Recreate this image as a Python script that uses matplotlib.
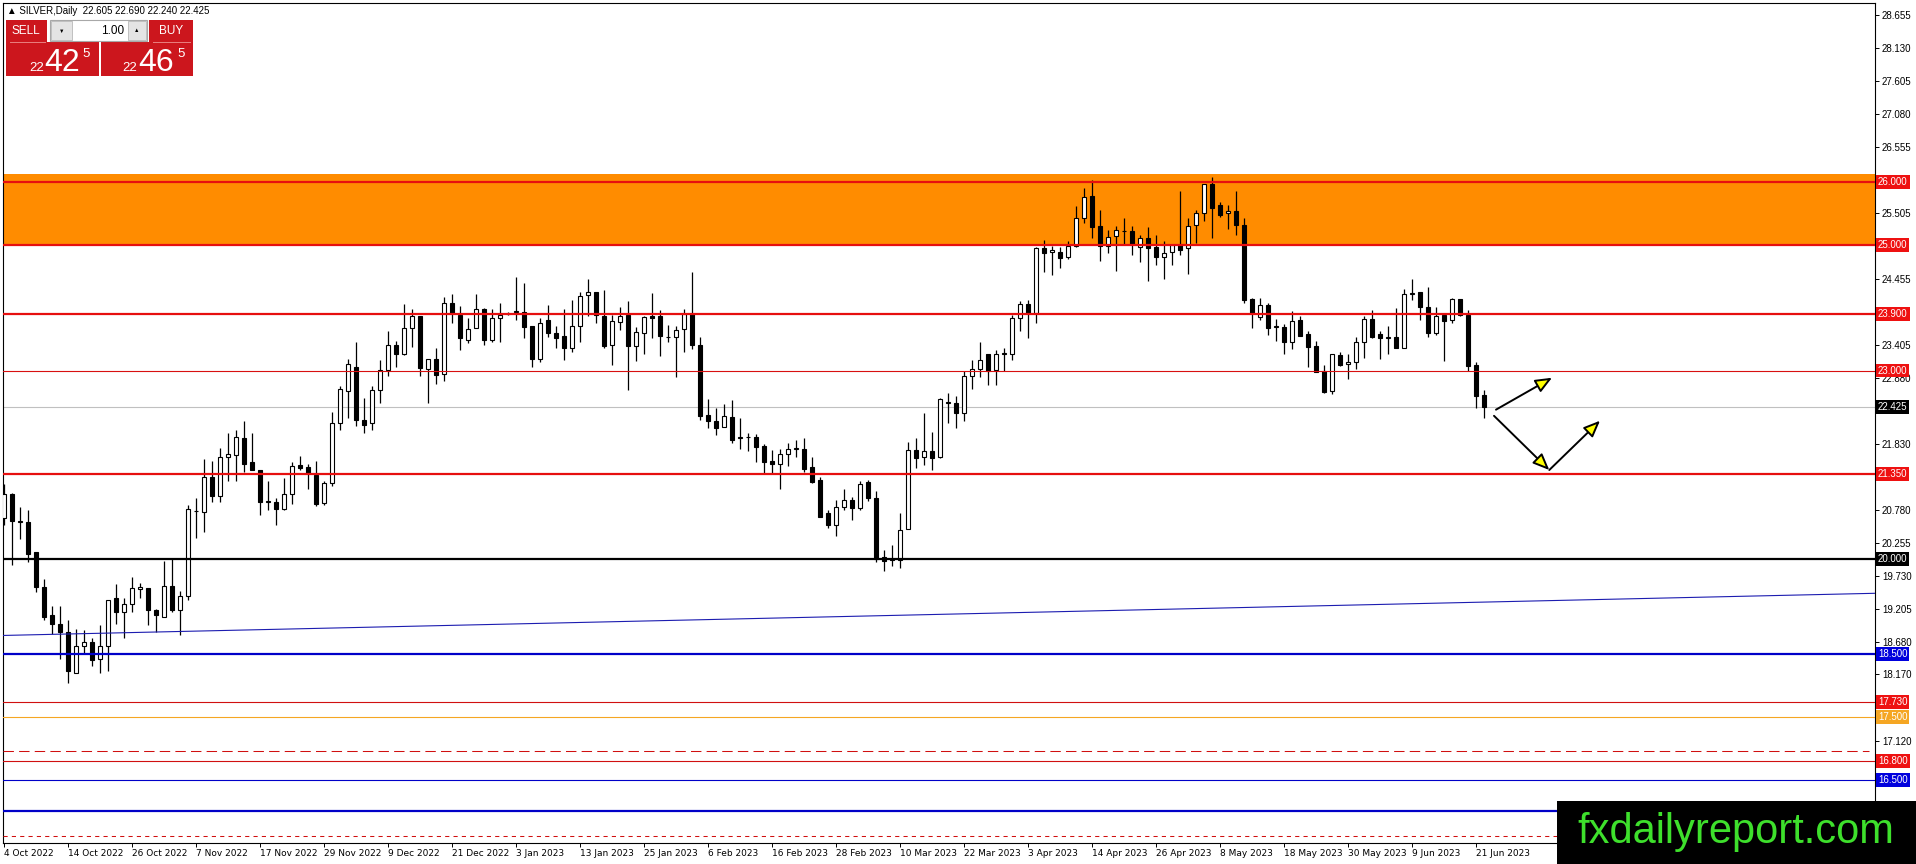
import numpy as np
import matplotlib
matplotlib.use('Agg')
import matplotlib.pyplot as plt
from matplotlib.patches import Rectangle, FancyArrowPatch
from matplotlib.transforms import blended_transform_factory

plt.rcParams['font.family'] = ['Liberation Sans', 'DejaVu Sans']

# SILVER daily candles, 4 Oct 2022 .. 22 Jun 2023
opens = [20.66, 21.03, 20.60, 20.60, 20.12, 19.56, 19.12, 18.97, 18.84, 18.20,
         18.62, 18.69, 18.41, 18.62, 19.39, 19.17, 19.29, 19.53, 19.55, 19.19,
         19.09, 19.57, 19.19, 19.41, 20.76, 20.75, 21.31, 21.00, 21.63, 21.65,
         21.93, 21.54, 21.42, 20.91, 20.91, 20.80, 21.04, 21.50, 21.46, 21.34,
         20.89, 21.22, 22.17, 22.68, 23.05, 22.22, 22.16, 22.69, 23.01, 23.40,
         23.26, 23.67, 23.86, 23.02, 23.18, 22.94, 24.08, 23.88, 23.49, 23.68,
         23.98, 23.48, 23.83, 23.90, 23.93, 23.93, 23.70, 23.18, 23.81, 23.59,
         23.55, 23.35, 23.70, 24.20, 24.24, 23.86, 23.41, 23.77, 23.88, 23.39,
         23.60, 23.86, 23.86, 23.53, 23.53, 23.66, 23.895, 23.40, 22.30, 22.20,
         22.10, 22.26, 21.93, 21.94, 21.94, 21.80, 21.56, 21.51, 21.67, 21.76,
         21.76, 21.46, 21.26, 20.74, 20.55, 20.83, 20.94, 20.82, 21.23, 20.98,
         20.03, 20.00, 19.99, 20.48, 21.73, 21.63, 21.72, 21.63, 22.49, 22.48,
         22.33, 22.92, 23.03, 23.27, 23.01, 23.27, 23.27, 23.84, 24.05, 23.92,
         24.94, 24.88, 24.88, 24.81, 24.98, 25.43, 25.77, 25.30, 24.98, 25.13,
         25.22, 25.22, 24.97, 25.10, 24.96, 24.81, 24.88, 25.00, 24.94, 25.32,
         25.51, 25.97, 25.63, 25.50, 25.53, 25.32, 24.14, 23.855, 24.04, 23.69,
         23.69, 23.45, 23.81, 23.58, 23.39, 23.00, 22.67, 23.25, 23.10, 23.13,
         23.46, 23.82, 23.58, 23.52, 23.53, 23.36, 24.22, 24.24, 24.01, 23.60,
         23.88, 23.80, 24.14, 23.89, 23.09, 22.605]
highs = [21.19, 21.05, 20.83, 20.78, 20.12, 19.68, 19.26, 19.26, 19.03, 18.89,
         18.88, 18.75, 18.95, 19.36, 19.61, 19.39, 19.72, 19.62, 19.55, 19.21,
         19.98, 20.01, 19.50, 20.86, 20.97, 21.59, 21.56, 21.77, 22.00, 22.05,
         22.19, 22.00, 21.42, 21.25, 20.98, 21.29, 21.55, 21.64, 21.51, 21.57,
         21.25, 22.34, 22.75, 23.18, 23.45, 22.56, 22.76, 23.17, 23.63, 23.47,
         24.05, 23.97, 23.86, 23.18, 23.35, 24.17, 24.22, 24.02, 23.83, 24.21,
         24.00, 23.98, 24.08, 23.93, 24.48, 24.39, 23.70, 23.84, 24.04, 23.71,
         23.97, 24.12, 24.24, 24.45, 24.24, 24.28, 23.88, 24.01, 24.10, 23.69,
         23.87, 24.23, 23.96, 23.73, 23.70, 23.97, 24.56, 23.53, 22.55, 22.40,
         22.46, 22.53, 22.24, 22.01, 21.99, 21.84, 21.74, 21.76, 21.85, 21.90,
         21.92, 21.63, 21.31, 20.78, 20.95, 21.11, 20.99, 21.25, 21.26, 21.09,
         20.15, 20.22, 20.73, 21.87, 21.92, 22.32, 22.03, 22.56, 22.65, 22.59,
         23.00, 23.16, 23.45, 23.27, 23.33, 23.35, 23.88, 24.10, 24.12, 24.97,
         25.07, 24.98, 24.97, 25.06, 25.61, 25.90, 26.03, 25.55, 25.24, 25.30,
         25.43, 25.30, 25.16, 25.28, 25.16, 25.06, 25.00, 25.85, 25.42, 25.55,
         25.97, 26.07, 25.68, 25.63, 25.85, 25.42, 24.15, 24.15, 24.07, 23.82,
         23.74, 23.94, 23.87, 23.62, 23.47, 23.09, 23.27, 23.29, 23.27, 23.54,
         23.87, 23.96, 23.63, 23.71, 24.00, 24.29, 24.46, 24.25, 24.32, 24.01,
         23.88, 24.16, 24.14, 23.96, 23.13, 22.69]
lows = [20.55, 19.91, 20.32, 19.95, 19.48, 19.04, 18.81, 18.41, 18.04, 18.20,
        18.51, 18.31, 18.19, 18.23, 18.97, 18.75, 19.17, 19.39, 18.95, 18.84,
        19.09, 19.16, 18.79, 19.36, 20.34, 20.44, 20.91, 20.91, 21.24, 21.24,
        21.38, 21.42, 20.71, 20.79, 20.54, 20.79, 20.88, 21.42, 21.12, 20.84,
        20.86, 21.16, 22.06, 22.25, 22.12, 22.00, 22.06, 22.49, 22.91, 23.05,
        23.25, 23.38, 22.91, 22.49, 22.78, 22.83, 23.76, 23.33, 23.44, 23.67,
        23.40, 23.45, 23.45, 23.88, 23.80, 23.51, 23.05, 23.13, 23.53, 23.36,
        23.16, 23.30, 23.45, 23.86, 23.76, 23.36, 23.08, 23.64, 22.69, 23.15,
        23.26, 23.52, 23.23, 23.45, 22.90, 23.30, 23.34, 22.22, 22.08, 21.98,
        22.10, 21.85, 21.76, 21.72, 21.54, 21.36, 21.37, 21.11, 21.49, 21.63,
        21.38, 21.21, 20.67, 20.49, 20.37, 20.78, 20.62, 20.79, 20.93, 19.96,
        19.82, 19.89, 19.86, 20.48, 21.45, 21.50, 21.42, 21.61, 22.16, 22.09,
        22.20, 22.70, 22.90, 22.77, 22.77, 23.00, 23.17, 23.63, 23.51, 23.76,
        24.57, 24.51, 24.63, 24.77, 24.96, 25.34, 25.10, 24.74, 24.87, 24.58,
        25.00, 24.83, 24.73, 24.43, 24.67, 24.45, 24.68, 24.83, 24.53, 25.03,
        25.37, 25.11, 25.44, 25.25, 25.15, 24.08, 23.68, 23.81, 23.57, 23.47,
        23.26, 23.34, 23.55, 23.05, 22.97, 22.64, 22.62, 23.07, 22.86, 23.03,
        23.20, 23.52, 23.19, 23.27, 23.35, 23.36, 24.12, 23.80, 23.54, 23.57,
        23.15, 23.76, 23.86, 22.99, 22.41, 22.24]
closes = [21.03, 20.61, 20.61, 20.09, 19.56, 19.09, 18.97, 18.84, 18.22, 18.62,
          18.69, 18.40, 18.62, 19.36, 19.17, 19.29, 19.55, 19.56, 19.20, 19.11,
          19.57, 19.19, 19.41, 20.80, 20.77, 21.31, 21.00, 21.63, 21.68, 21.95,
          21.52, 21.42, 20.91, 20.92, 20.80, 21.04, 21.48, 21.45, 21.37, 20.88,
          21.22, 22.17, 22.71, 23.10, 22.21, 22.13, 22.69, 23.01, 23.40, 23.26,
          23.67, 23.86, 23.04, 23.18, 22.93, 24.08, 23.92, 23.51, 23.66, 23.98,
          23.48, 23.83, 23.89, 23.90, 23.94, 23.69, 23.18, 23.75, 23.59, 23.52,
          23.35, 23.70, 24.19, 24.24, 23.88, 23.39, 23.78, 23.86, 23.39, 23.61,
          23.85, 23.84, 23.55, 23.54, 23.65, 23.895, 23.40, 22.28, 22.20, 22.09,
          22.27, 21.89, 21.94, 21.94, 21.79, 21.55, 21.51, 21.67, 21.76, 21.77,
          21.44, 21.23, 20.67, 20.55, 20.83, 20.94, 20.82, 21.20, 20.98, 20.00,
          19.98, 19.99, 20.47, 21.73, 21.61, 21.72, 21.61, 22.54, 22.50, 22.33,
          22.92, 23.03, 23.16, 23.00, 23.26, 23.28, 23.84, 24.05, 23.92, 24.94,
          24.87, 24.91, 24.79, 24.98, 25.43, 25.75, 25.28, 24.98, 25.12, 25.23,
          25.21, 25.01, 25.10, 24.94, 24.81, 24.86, 25.00, 24.92, 25.30, 25.51,
          25.97, 25.59, 25.47, 25.54, 25.31, 24.12, 23.92, 24.04, 23.68, 23.70,
          23.45, 23.79, 23.55, 23.38, 22.98, 22.66, 23.26, 23.09, 23.13, 23.45,
          23.82, 23.54, 23.51, 23.53, 23.36, 24.21, 24.23, 24.01, 23.60, 23.87,
          23.79, 24.14, 23.88, 23.07, 22.60, 22.425]

# date labels on the time axis (bar index, text)
date_bars = [0, 8, 16, 24, 32, 40, 48, 56, 64, 72, 80, 88,
             96, 104, 112, 120, 128, 136, 144, 152, 160, 168, 176, 184]
date_labels = ['4 Oct 2022', '14 Oct 2022', '26 Oct 2022', '7 Nov 2022', '17 Nov 2022',
               '29 Nov 2022', '9 Dec 2022', '21 Dec 2022', '3 Jan 2023', '13 Jan 2023',
               '25 Jan 2023', '6 Feb 2023', '16 Feb 2023', '28 Feb 2023', '10 Mar 2023',
               '22 Mar 2023', '3 Apr 2023', '14 Apr 2023', '26 Apr 2023', '8 May 2023',
               '18 May 2023', '30 May 2023', '9 Jun 2023', '21 Jun 2023']

# price scale labels that are left visible (the rest sit under the price tags)
price_labels = ['28.655', '28.130', '27.605', '27.080', '26.555', '25.505',
                '24.455', '23.405', '22.880', '21.830',
                '20.780', '20.255', '19.730', '19.205', '18.680', '18.170',
                '17.120']

# horizontal levels with price tags
level_prices = [26.0, 25.0, 23.9, 23.0, 21.35, 20.0, 18.5, 17.73, 17.5, 16.8, 16.5]
level_tags = ['26.000', '25.000', '23.900', '23.000', '21.350', '20.000',
              '18.500', '17.730', '17.500', '16.800', '16.500']
level_colors = ['#e60f0f', '#e60f0f', '#e60f0f', '#d81010', '#e60f0f', 'black',
                '#0000c8', '#d01010', '#f5a623', '#d01010', '#0000c8']
level_widths = [1.6, 1.6, 1.6, 0.8, 1.6, 1.6, 1.6, 0.8, 0.8, 0.8, 0.8]
tag_colors = ['#ee1111', '#ee1111', '#ee1111', '#ee1111', '#ee1111', 'black',
              '#0000dd', '#ee1111', '#f5a623', '#ee1111', '#0000dd']

bid_price = 22.425
zone_low, zone_high = 25.0, 26.12
dashed_level = 16.96
blue_level = 16.0
dotted_level = 15.6

# trend line (bar index, price)
trend_x = [-0.125, 233.875]
trend_p = [18.79, 19.46]

# projection arrows (bar index, price)
arrow_from = [(186.5, 22.378), (186.25, 22.28), (193.16, 21.419)]
arrow_to = [(193.5, 22.885), (193.16, 21.419), (199.5, 22.202)]

W, H = 1916, 864
fig = plt.figure(figsize=(W / 100, H / 100), dpi=100)
fig.patch.set_facecolor('white')

left_px, right_px, top_px, bot_px = 3, 1875, 3, 843
ax = fig.add_axes([left_px / W, 1 - bot_px / H, (right_px - left_px) / W, (bot_px - top_px) / H])
ax.set_xlim((left_px - 4) / 8, (right_px - 4) / 8)
ax.set_ylim(15.492, 28.840)

# orange resistance zone
ax.axhspan(zone_low, zone_high, color='#ff8c00', zorder=1, lw=0)
ax.axhline(bid_price, color='#c0c0c0', lw=0.8, zorder=2)

# candles
o = np.array(opens); h = np.array(highs); l = np.array(lows); c = np.array(closes)
x = np.arange(len(o))
up = c >= o
ax.vlines(x, l, h, color='black', lw=0.9, zorder=4)
body_lo = np.minimum(o, c)
body_h = np.maximum(np.abs(c - o), 0.004)
ax.bar(x, body_h, bottom=body_lo, width=0.55, color=np.where(up, 'white', 'black'),
       edgecolor='black', linewidth=0.8, zorder=5)

# levels
for p, col, lw in zip(level_prices, level_colors, level_widths):
    ax.axhline(p, color=col, lw=lw, zorder=6)
ax.axhline(dashed_level, xmax=0.997, color='#d01010', lw=0.75, dashes=(10, 5), zorder=6)
ax.axhline(blue_level, color='#0000c8', lw=1.6, zorder=6)
ax.axhline(dotted_level, color='#d01010', lw=0.75, dashes=(4, 4), zorder=6)
ax.plot(trend_x, trend_p, color='#1c1cb0', lw=0.8, zorder=6)

# arrows
for a, b in zip(arrow_from, arrow_to):
    ax.add_patch(FancyArrowPatch(a, b, arrowstyle='-|>,head_length=1.0,head_width=0.42',
                                 mutation_scale=10, fc='#ffff00', ec='black', lw=1.4,
                                 shrinkA=0, shrinkB=0, zorder=7))

# axes styling
for s in ax.spines.values():
    s.set_color('black')
    s.set_linewidth(0.8)
ax.yaxis.tick_right()
ax.set_yticks([float(t) for t in price_labels])
ax.set_yticklabels(price_labels)
ax.set_xticks(date_bars)
ax.set_xticklabels(date_labels, ha='left', family='DejaVu Sans')
ax.tick_params(axis='y', direction='out', length=3, width=0.7, pad=2, labelsize=7)
ax.tick_params(axis='x', direction='out', length=3, width=0.7, pad=1.5, labelsize=6.5)

# price tags on the right scale
trans = blended_transform_factory(ax.transAxes, ax.transData)
xtag = 1 + 3 / (right_px - left_px)
for txt, p, col in zip(level_tags, level_prices, tag_colors):
    ax.text(xtag, p, txt, transform=trans, ha='left', va='center', fontsize=7, color='white',
            bbox=dict(boxstyle='square,pad=0.2', fc=col, ec='none'), zorder=10, clip_on=False)
ax.text(xtag, bid_price, '22.425', transform=trans, ha='left', va='center', fontsize=7,
        color='white', bbox=dict(boxstyle='square,pad=0.2', fc='black', ec='none'),
        zorder=10, clip_on=False)

# overlay in pixel units: header, one-click panel, watermark
ov = fig.add_axes([0, 0, 1, 1], zorder=20)
ov.set_xlim(0, W)
ov.set_ylim(H, 0)
ov.axis('off')

ov.text(7, 11, '\u25b2 SILVER,Daily  22.605 22.690 22.240 22.425', fontsize=7, va='center')

red = '#cc161d'
ov.add_patch(Rectangle((6, 20), 41, 22, fc=red, ec='none'))
ov.add_patch(Rectangle((6, 42), 93, 34, fc=red, ec='none'))
ov.add_patch(Rectangle((149, 20), 44, 22, fc=red, ec='none'))
ov.add_patch(Rectangle((101, 42), 92, 34, fc=red, ec='none'))
ov.plot([10, 45], [41.5, 41.5], color='#e98080', lw=0.7)
ov.plot([153, 190], [41.5, 41.5], color='#e98080', lw=0.7)
ov.add_patch(Rectangle((50, 20), 97, 21, fc='white', ec='#a8a8a8', lw=0.8))
ov.add_patch(Rectangle((51, 21), 21, 19, fc='#e4e4e4', ec='#b8b8b8', lw=0.6))
ov.add_patch(Rectangle((128, 21), 18, 19, fc='#e4e4e4', ec='#b8b8b8', lw=0.6))
ov.text(61.5, 31, '\u25bc', fontsize=4, ha='center', va='center')
ov.text(137, 31, '\u25b2', fontsize=4, ha='center', va='center')
ov.text(124, 31, '1.00', fontsize=8.5, ha='right', va='center')
ov.text(26, 31, 'SELL', fontsize=8.5, color='white', ha='center', va='center')
ov.text(171, 31, 'BUY', fontsize=8.5, color='white', ha='center', va='center')
ov.text(29, 71, '22', fontsize=9.5, color='white', ha='left', va='baseline')
ov.text(44, 71, '42', fontsize=23, color='white', ha='left', va='baseline')
ov.text(82, 57, '5', fontsize=9.5, color='white', ha='left', va='baseline')
ov.text(122, 71, '22', fontsize=9.5, color='white', ha='left', va='baseline')
ov.text(138, 71, '46', fontsize=23, color='white', ha='left', va='baseline')
ov.text(177, 57, '5', fontsize=9.5, color='white', ha='left', va='baseline')

ov.add_patch(Rectangle((1557, 801), W - 1557, H - 801, fc='black', ec='none'))
ov.text(1736, 843, 'fxdailyreport.com', fontsize=30, color='#3ee02c', ha='center', va='baseline')

fig.savefig('out.png', dpi=100)
